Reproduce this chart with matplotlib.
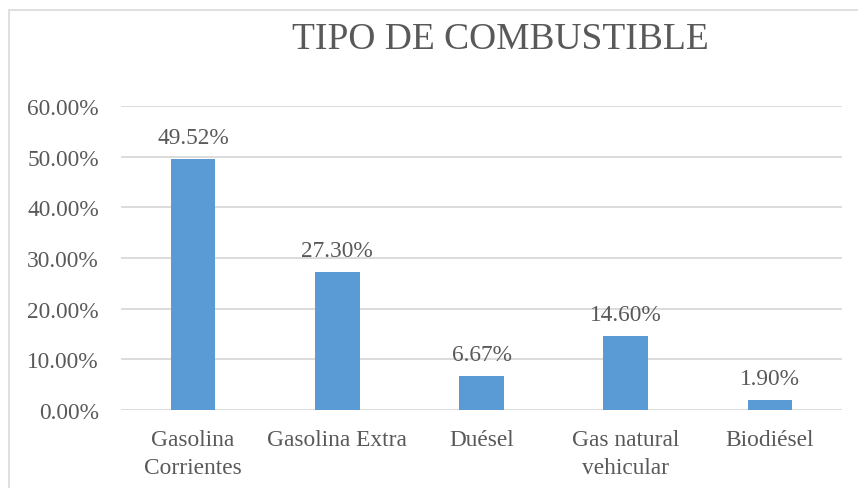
import matplotlib
matplotlib.use("Agg")
import matplotlib.pyplot as plt
from matplotlib.patches import Rectangle

categories = ["Gasolina\nCorrientes", "Gasolina Extra", "Duésel", "Gas natural\nvehicular", "Biodiésel"]
values = [49.52, 27.30, 6.67, 14.60, 1.90]
yticks = [0, 10, 20, 30, 40, 50, 60]
title = "TIPO DE COMBUSTIBLE"

plt.rcParams['font.family'] = ['Liberation Serif', 'DejaVu Serif']
txt = '#595959'
W, H = 858, 489
fig = plt.figure(figsize=(W/100, H/100), dpi=100)
fig.patch.set_facecolor('white')

# outer border
fig.add_artist(Rectangle((9/W, -0.05), 1.0, (H-11)/H + 0.05, transform=fig.transFigure,
                         fill=False, edgecolor='#D9D9D9', linewidth=1.2))

ax = fig.add_axes([121/W, 1-411/H, (842-121)/W, (411-107)/H])
x = list(range(len(categories)))
ax.bar(x, values, width=0.31, color='#5B9BD5', zorder=3)
ax.set_xlim(-0.5, len(categories)-0.5)
ax.set_ylim(0, 60)
ax.set_yticks(yticks)
ax.set_yticklabels([f"{v:.2f}%" for v in yticks], fontsize=16.8, color=txt)
ax.set_xticks(x)
ax.set_xticklabels(categories, fontsize=16.8, color=txt, linespacing=1.4)
ax.tick_params(axis='both', length=0)
ax.tick_params(axis='y', pad=16)
ax.tick_params(axis='x', pad=14)
ax.grid(axis='y', color='#D9D9D9', linewidth=1.3, zorder=0)
for s in ax.spines.values():
    s.set_visible(False)
for xi, v in zip(x, values):
    ax.annotate(f"{v:.2f}%", (xi, v), xytext=(0, 8), textcoords='offset points',
                ha='center', va='bottom', fontsize=16.8, color=txt)

fig.text(500/W, 1-40/H, title, ha='center', va='center', fontsize=27, color=txt)

fig.savefig('out.png', dpi=100, facecolor='white')
